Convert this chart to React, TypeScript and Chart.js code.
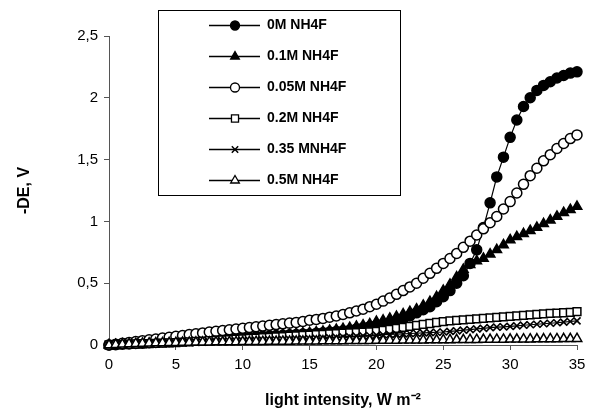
import React, { useEffect, useRef } from 'react';
import { Chart, registerables } from 'chart.js';

Chart.register(...registerables);

const xValues = [
  0, 0.5, 1, 1.5, 2, 2.5, 3, 3.5, 4, 4.5,
  5, 5.5, 6, 6.5, 7, 7.5, 8, 8.5, 9, 9.5,
  10, 10.5, 11, 11.5, 12, 12.5, 13, 13.5, 14, 14.5,
  15, 15.5, 16, 16.5, 17, 17.5, 18, 18.5, 19, 19.5,
  20, 20.5, 21, 21.5, 22, 22.5, 23, 23.5, 24, 24.5,
  25, 25.5, 26, 26.5, 27, 27.5, 28, 28.5, 29, 29.5,
  30, 30.5, 31, 31.5, 32, 32.5, 33, 33.5, 34, 34.5,
  35,
];

const seriesLabels = ['0M NH4F', '0.1M NH4F', '0.05M NH4F', '0.2M NH4F', '0.35 MNH4F', '0.5M NH4F'];

const s0M = [
  0, 0.003, 0.006, 0.009, 0.012, 0.015, 0.018, 0.021, 0.024, 0.027,
  0.03, 0.033, 0.036, 0.039, 0.042, 0.045, 0.048, 0.051, 0.054, 0.057,
  0.06, 0.063, 0.066, 0.07, 0.073, 0.076, 0.079, 0.082, 0.085, 0.088,
  0.09, 0.095, 0.1, 0.105, 0.11, 0.115, 0.12, 0.13, 0.14, 0.15,
  0.16, 0.17, 0.18, 0.195, 0.21, 0.235, 0.26, 0.285, 0.31, 0.35,
  0.39, 0.44, 0.5, 0.56, 0.66, 0.77, 0.95, 1.15, 1.36, 1.52,
  1.68, 1.82, 1.93, 2.0, 2.06, 2.1, 2.13, 2.16, 2.18, 2.2,
  2.21,
];

const s01M = [
  0, 0.003, 0.007, 0.01, 0.013, 0.017, 0.02, 0.023, 0.026, 0.03,
  0.033, 0.036, 0.04, 0.043, 0.046, 0.05, 0.053, 0.056, 0.06, 0.063,
  0.066, 0.07, 0.073, 0.077, 0.08, 0.084, 0.087, 0.09, 0.094, 0.097,
  0.1, 0.105, 0.11, 0.118, 0.125, 0.132, 0.14, 0.15, 0.16, 0.17,
  0.19, 0.2, 0.215, 0.23, 0.25, 0.27, 0.29, 0.32, 0.35, 0.39,
  0.44, 0.49, 0.55, 0.61, 0.65, 0.68, 0.7, 0.735, 0.77, 0.81,
  0.85, 0.875, 0.9, 0.925, 0.95, 0.98, 1.01, 1.04, 1.07, 1.095,
  1.12,
];

const s005M = [
  0, 0.007, 0.014, 0.021, 0.028, 0.035, 0.042, 0.049, 0.056, 0.063,
  0.07, 0.077, 0.084, 0.091, 0.098, 0.105, 0.111, 0.117, 0.123, 0.129,
  0.135, 0.141, 0.147, 0.153, 0.159, 0.165, 0.171, 0.177, 0.183, 0.19,
  0.2, 0.207, 0.215, 0.225, 0.235, 0.247, 0.26, 0.275, 0.29, 0.31,
  0.33, 0.355, 0.38, 0.41, 0.44, 0.47, 0.5, 0.54, 0.58, 0.62,
  0.66, 0.7, 0.74, 0.79, 0.84, 0.89, 0.94, 0.99, 1.04, 1.1,
  1.16, 1.23, 1.3, 1.37, 1.43, 1.49, 1.54, 1.59, 1.63, 1.67,
  1.7,
];

const s02M = [
  0, 0.002, 0.004, 0.006, 0.008, 0.01, 0.012, 0.014, 0.016, 0.018,
  0.02, 0.023, 0.026, 0.029, 0.032, 0.035, 0.038, 0.041, 0.044, 0.047,
  0.05, 0.053, 0.056, 0.059, 0.062, 0.065, 0.068, 0.071, 0.074, 0.077,
  0.08, 0.083, 0.086, 0.089, 0.092, 0.095, 0.098, 0.101, 0.104, 0.107,
  0.11, 0.118, 0.126, 0.134, 0.142, 0.15, 0.158, 0.166, 0.174, 0.182,
  0.19, 0.195, 0.2, 0.204, 0.208, 0.212, 0.216, 0.22, 0.224, 0.228,
  0.232, 0.236, 0.24, 0.244, 0.248, 0.252, 0.255, 0.258, 0.261, 0.264,
  0.27,
];

const s035M = [
  0, 0.002, 0.004, 0.005, 0.007, 0.009, 0.01, 0.012, 0.014, 0.015,
  0.017, 0.019, 0.02, 0.022, 0.024, 0.025, 0.027, 0.029, 0.03, 0.032,
  0.034, 0.035, 0.037, 0.039, 0.04, 0.042, 0.044, 0.045, 0.047, 0.049,
  0.05, 0.053, 0.056, 0.059, 0.062, 0.065, 0.068, 0.071, 0.074, 0.077,
  0.08, 0.083, 0.085, 0.088, 0.09, 0.093, 0.095, 0.098, 0.1, 0.103,
  0.105, 0.11, 0.115, 0.12, 0.125, 0.13, 0.135, 0.14, 0.145, 0.147,
  0.15, 0.155, 0.16, 0.164, 0.168, 0.172, 0.176, 0.18, 0.185, 0.19,
  0.195,
];

const s05M = [
  0, 0.003, 0.006, 0.009, 0.011, 0.013, 0.015, 0.016, 0.017, 0.018,
  0.019, 0.02, 0.021, 0.022, 0.022, 0.023, 0.024, 0.024, 0.025, 0.025,
  0.026, 0.026, 0.027, 0.027, 0.028, 0.028, 0.029, 0.029, 0.03, 0.03,
  0.031, 0.031, 0.032, 0.032, 0.033, 0.033, 0.034, 0.034, 0.035, 0.035,
  0.036, 0.036, 0.037, 0.037, 0.038, 0.038, 0.039, 0.039, 0.04, 0.04,
  0.041, 0.041, 0.042, 0.042, 0.043, 0.043, 0.044, 0.044, 0.045, 0.045,
  0.046, 0.046, 0.047, 0.047, 0.048, 0.048, 0.049, 0.049, 0.05, 0.05,
  0.051,
];

const seriesValues = [s0M, s01M, s005M, s02M, s035M, s05M];
const markerStyles = ['circle', 'triangle', 'circle', 'rect', 'crossRot', 'triangle'];
const markerFills = ['#000000', '#000000', '#ffffff', '#ffffff', '#ffffff', '#ffffff'];
const markerRadius = [5, 5.5, 5, 5.5, 5, 5.5];

const xTicks = [0, 5, 10, 15, 20, 25, 30, 35];
const yTicks = [0, 0.5, 1, 1.5, 2, 2.5];

const FONT = "'Liberation Sans', Arial, sans-serif";

function drawMarker(ctx: CanvasRenderingContext2D, style: string, fill: string, r: number, x: number, y: number) {
  ctx.save();
  ctx.lineWidth = 1.3;
  ctx.strokeStyle = '#000';
  ctx.fillStyle = fill;
  ctx.beginPath();
  if (style === 'circle') {
    ctx.arc(x, y, r, 0, Math.PI * 2);
    ctx.fill();
    ctx.stroke();
  } else if (style === 'triangle') {
    const a = (2 * Math.PI) / 3;
    ctx.moveTo(x, y - r);
    ctx.lineTo(x + Math.sin(a) * r, y - Math.cos(a) * r);
    ctx.lineTo(x - Math.sin(a) * r, y - Math.cos(a) * r);
    ctx.closePath();
    ctx.fill();
    ctx.stroke();
  } else if (style === 'rect') {
    const s = r * Math.SQRT1_2;
    ctx.rect(x - s, y - s, 2 * s, 2 * s);
    ctx.fill();
    ctx.stroke();
  } else if (style === 'crossRot') {
    const s = r * Math.SQRT1_2;
    ctx.lineWidth = 1.5;
    ctx.moveTo(x - s, y - s);
    ctx.lineTo(x + s, y + s);
    ctx.moveTo(x - s, y + s);
    ctx.lineTo(x + s, y - s);
    ctx.stroke();
  }
  ctx.restore();
}

const legendBoxPlugin = {
  id: 'legendBox',
  afterDraw(chart: any) {
    const ctx: CanvasRenderingContext2D = chart.ctx;
    const left = 158, top = 10, right = 400, bottom = 195;
    ctx.save();
    ctx.fillStyle = '#ffffff';
    ctx.fillRect(left, top, right - left, bottom - top);
    ctx.strokeStyle = '#000';
    ctx.lineWidth = 1;
    ctx.strokeRect(left + 0.5, top + 0.5, right - left, bottom - top);
    const rowH = (bottom - top) / seriesLabels.length;
    ctx.font = `bold 14px ${FONT}`;
    ctx.textBaseline = 'middle';
    ctx.textAlign = 'left';
    seriesLabels.forEach((label, i) => {
      const y = Math.round(top + rowH * (i + 0.5)) + 0.5;
      ctx.strokeStyle = '#000';
      ctx.lineWidth = 1.3;
      ctx.beginPath();
      ctx.moveTo(209, y);
      ctx.lineTo(260, y);
      ctx.stroke();
      drawMarker(ctx, markerStyles[i], markerFills[i], markerRadius[i] - 0.5, 235, y);
      ctx.fillStyle = '#000';
      ctx.fillText(label, 267, y);
    });
    ctx.restore();
  },
};

export default function App() {
  const canvasRef = useRef<HTMLCanvasElement | null>(null);

  useEffect(() => {
    const canvas = canvasRef.current;
    if (!canvas) return;
    const datasets = seriesLabels.map((label, i) => ({
      label,
      data: xValues.map((x, j) => ({ x, y: seriesValues[i][j] })),
      borderColor: '#000000',
      borderWidth: 1.2,
      backgroundColor: markerFills[i],
      pointStyle: markerStyles[i] as any,
      pointRadius: markerRadius[i],
      pointBorderWidth: markerStyles[i] === 'crossRot' ? 1.6 : 1.5,
      pointBorderColor: '#000000',
      pointBackgroundColor: markerFills[i],
      showLine: true,
      tension: 0,
      clip: false as any,
      order: 10 - i,
    }));

    const chart = new Chart(canvas, {
      type: 'scatter',
      data: { datasets },
      plugins: [legendBoxPlugin],
      options: {
        responsive: false,
        animation: false,
        devicePixelRatio: 1,
        layout: { padding: { left: 0, right: 15, top: 36, bottom: 0 } },
        plugins: {
          legend: { display: false },
          tooltip: { enabled: false },
          title: { display: false },
        },
        scales: {
          x: {
            type: 'linear',
            min: 0,
            max: 35,
            afterFit: (scale: any) => { scale.height = 69; },
            afterBuildTicks: (scale: any) => { scale.ticks = xTicks.map((v) => ({ value: v })); },
            grid: { drawOnChartArea: false, drawTicks: true, tickLength: 5, tickColor: '#555', color: '#555' },
            border: { display: true, color: '#555', width: 1 },
            ticks: {
              color: '#000',
              font: { family: FONT, size: 15 },
              padding: 6,
              maxRotation: 0,
              autoSkip: false,
            },
            title: {
              display: true,
              text: 'light intensity, W m\u207B\u00B2',
              color: '#000',
              font: { family: FONT, size: 16, weight: 'bold' },
              padding: { top: 0, bottom: 4 },
            },
          },
          y: {
            type: 'linear',
            min: 0,
            max: 2.5,
            afterFit: (scale: any) => { scale.width = 109; },
            afterBuildTicks: (scale: any) => { scale.ticks = yTicks.map((v) => ({ value: v })); },
            grid: { drawOnChartArea: false, drawTicks: true, tickLength: 5, tickColor: '#555', color: '#555' },
            border: { display: true, color: '#555', width: 1 },
            ticks: {
              color: '#000',
              font: { family: FONT, size: 15 },
              padding: 6,
              autoSkip: false,
              callback: (v: any) => String(v).replace('.', ','),
            },
            title: {
              display: true,
              text: '-DE, V',
              color: '#000',
              font: { family: FONT, size: 16, weight: 'bold' },
              padding: { top: 15, bottom: 0 },
            },
          },
        },
      },
    });
    return () => chart.destroy();
  }, []);

  return (
    <div style={{ position: 'fixed', left: 0, top: 0, width: 592, height: 414, background: '#fff' }}>
      <canvas ref={canvasRef} width={592} height={414} style={{ display: 'block', width: 592, height: 414 }} />
    </div>
  );
}
